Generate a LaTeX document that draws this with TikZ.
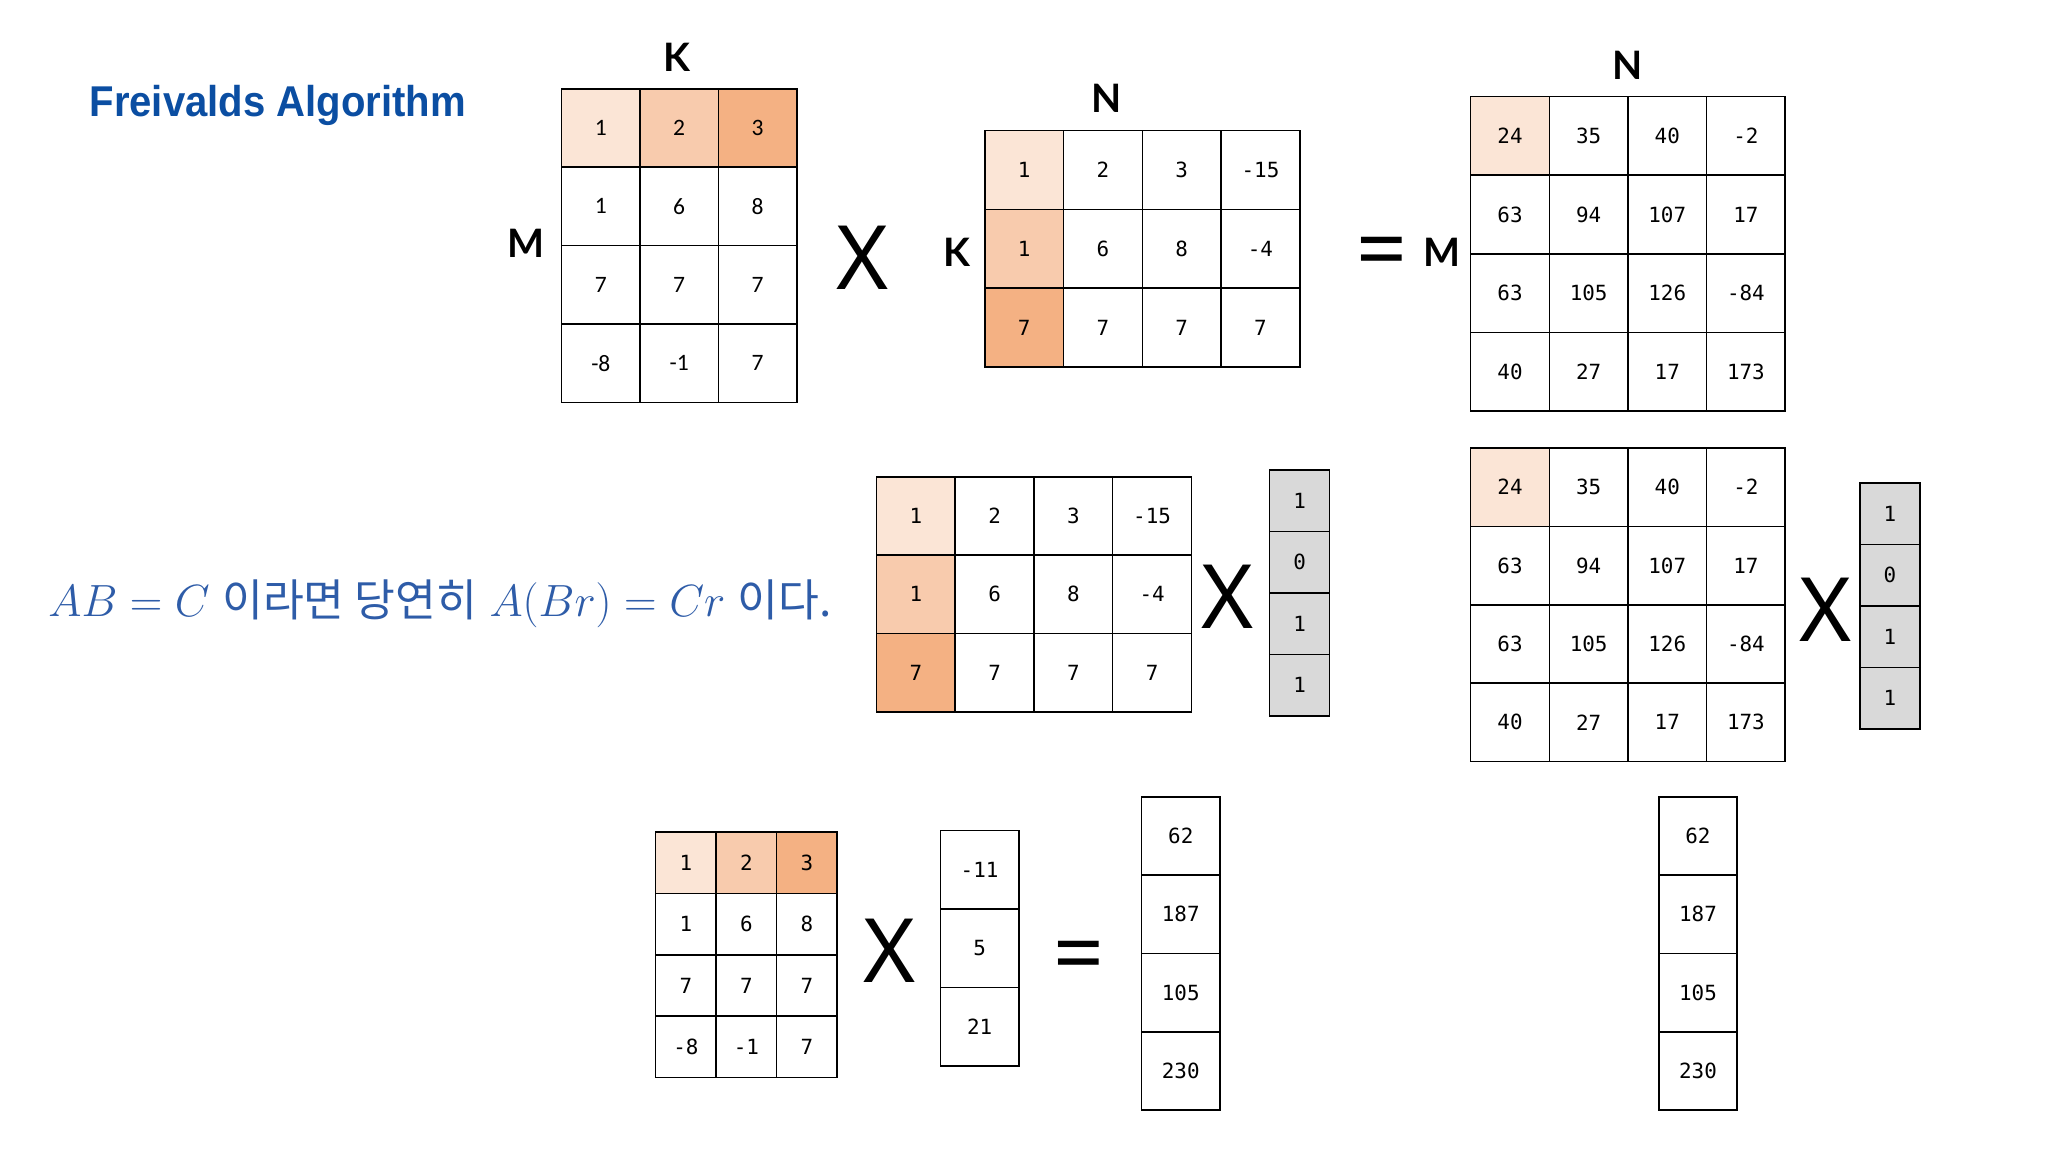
\documentclass[tikz,border=0pt]{standalone}
\usepackage{fontspec}
\setmainfont{Liberation Sans}
\newfontfamily\monof{DejaVu Sans Mono}
\newfontfamily\calf{Carlito}
\newfontfamily\labf{Lato}
\newfontfamily\xf{Noto Sans}
\newfontfamily\kr{Noto Sans CJK KR}
\definecolor{c1}{HTML}{FBE5D6}
\definecolor{c2}{HTML}{F8CBAD}
\definecolor{c3}{HTML}{F4B183}
\definecolor{gr}{HTML}{D9D9D9}
\definecolor{tblue}{HTML}{0B4EA2}
\definecolor{mblue}{HTML}{2E5CA8}
\tikzset{
 cell/.style={draw=black, line width=0.6pt, inner sep=0pt, font=\monof\fontsize{8}{9}\selectfont},
 lab/.style={font=\labf\bfseries\fontsize{15}{16}\selectfont},
 op/.style={font=\xf\fontsize{34}{36}\selectfont},
 cf/A-0-0/.style={fill=c1}, cf/A-0-1/.style={fill=c2}, cf/A-0-2/.style={fill=c3},
 cf/B-0-0/.style={fill=c1}, cf/B-1-0/.style={fill=c2}, cf/B-2-0/.style={fill=c3},
 cf/C-0-0/.style={fill=c1},
 cf/Bb-0-0/.style={fill=c1}, cf/Bb-1-0/.style={fill=c2}, cf/Bb-2-0/.style={fill=c3},
 cf/Cb-0-0/.style={fill=c1},
 cf/As-0-0/.style={fill=c1}, cf/As-0-1/.style={fill=c2}, cf/As-0-2/.style={fill=c3},
 cf/r1/.style={fill=gr}, cf/r2/.style={fill=gr},
}
\newcommand\mymat[7][]{%
 \foreach \row [count=\i from 0] in {#7} {%
  \foreach \v [count=\j from 0] in \row {%
   \node[cell, cf/#2/.try, cf/#2-\i-\j/.try, minimum width=#5*0.5pt, minimum height=#6*0.5pt, #1]
     (#2-\i-\j) at ({#3+(\j+0.5)*#5},{#4+(\i+0.5)*#6}) {\v};
  }}}
\begin{document}
\begin{tikzpicture}[x=0.5pt,y=-0.5pt]
\useasboundingbox (0,0) rectangle (1568,882);
\node[anchor=west, text=tblue, font=\fontsize{16.5}{18}\selectfont\bfseries, xscale=0.93] (title) at (62,81) {Freivalds Algorithm};
\mymat[font=\calf\fontsize{9}{10}\selectfont]{A}{430}{68}{60}{60}{{1,2,3},{1,6,8},{7,7,7},{-8,-1,7}}
\node[lab] (lK1) at (518,44) {K};
\node[lab] (lM1) at (403,186) {M};
\node[op] (x1) at (660,197) {X};
\mymat{B}{754}{100}{60.3}{60.3}{{1,2,3,-15},{1,6,8,-4},{7,7,7,7}}
\node[lab] (lN1) at (847,75) {N};
\node[lab] (lK2) at (733,193) {K};
\node[op] (eq1) at (1058,198) {=};
\node[lab] (lM2) at (1104,193) {M};
\mymat{C}{1126}{74}{60.2}{60.2}{{24,35,40,-2},{63,94,107,17},{63,105,126,-84},{40,27,17,173}}
\node[lab] (lN2) at (1246,50) {N};
% middle
\node[anchor=west, text=mblue, font=\fontsize{17}{18}\selectfont] (eqn) at (30,462)
 {$AB=C$ {\kr 이라면 당연히} $A(Br)=Cr$ {\kr 이다.}};
\mymat{Bb}{671}{365}{60.3}{60}{{1,2,3,-15},{1,6,8,-4},{7,7,7,7}}
\node[op] (x2) at (940,457) {X};
\mymat{r1}{972}{360}{46}{47}{{1},{0},{1},{1}}
\mymat{Cb}{1126}{343}{60.2}{60}{{24,35,40,-2},{63,94,107,17},{63,105,126,-84},{40,27,17,173}}
\node[op] (x3) at (1398,467) {X};
\mymat{r2}{1424}{370}{46}{47}{{1},{0},{1},{1}}
% bottom
\mymat{As}{502}{637}{46.3}{47}{{1,2,3},{1,6,8},{7,7,7},{-8,-1,7}}
\node[op] (x4) at (681,728) {X};
\mymat{v}{720}{636}{60}{60}{{-11},{5},{21}}
\node[op] (eq2) at (826,737) {=};
\mymat{res1}{874}{610}{60}{60}{{62},{187},{105},{230}}
\mymat{res2}{1270}{610}{60}{60}{{62},{187},{105},{230}}
\end{tikzpicture}
\end{document}
